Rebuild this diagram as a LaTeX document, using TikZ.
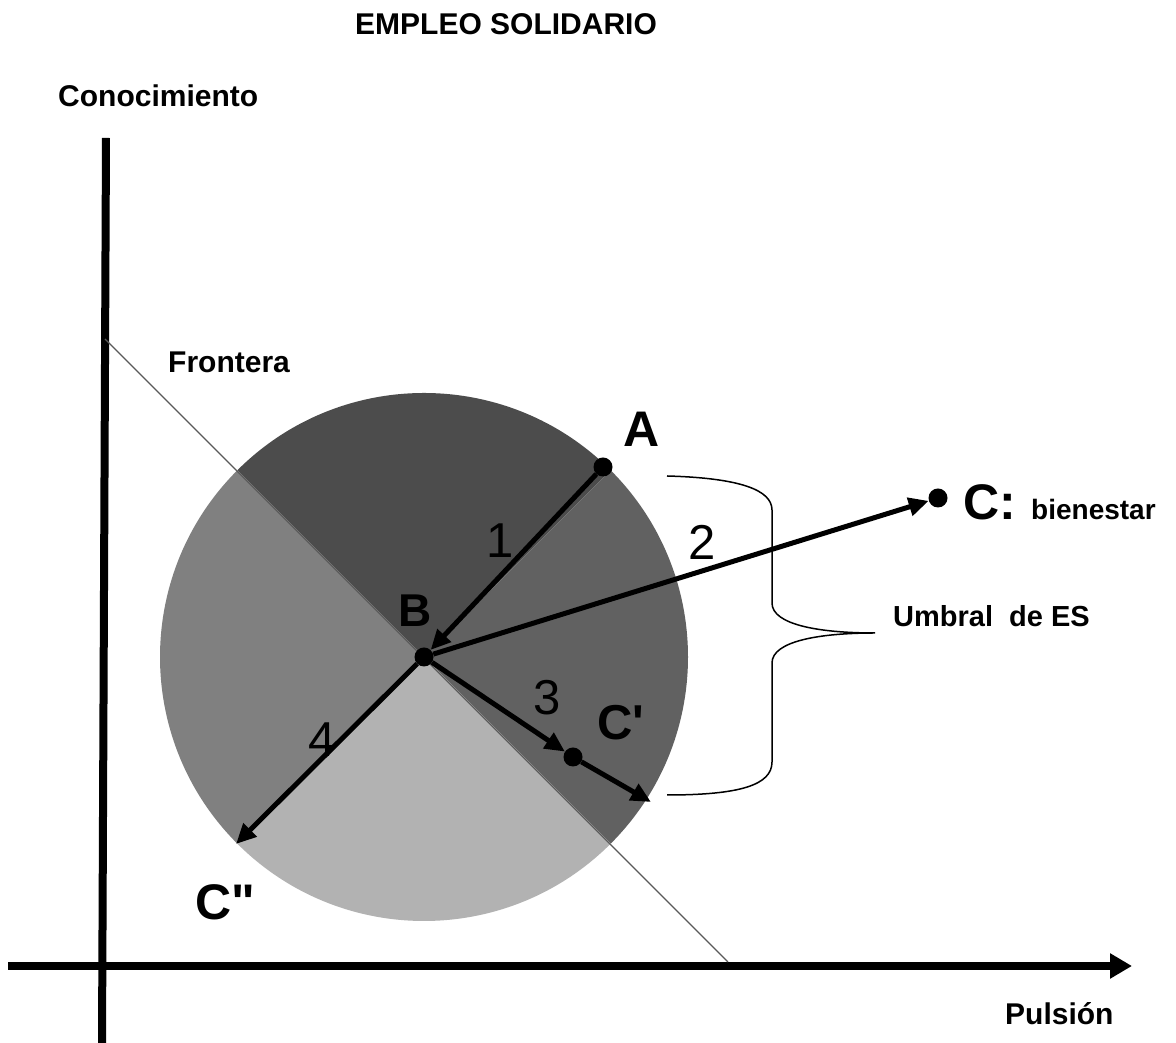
\documentclass[tikz,border=0pt]{standalone}
\usepackage{fontspec}
\setmainfont{Liberation Sans}[Ligatures=TeXOff]
\usetikzlibrary{arrows.meta}
\begin{document}
\begin{tikzpicture}[x=1pt,y=1pt,
  lbl/.style={inner sep=0pt, anchor=base west, font=\bfseries\fontsize{30}{34}\selectfont},
  biglbl/.style={inner sep=0pt, anchor=base west, font=\bfseries\fontsize{50}{56}\selectfont},
  num/.style={inner sep=0pt, anchor=base, font=\fontsize{49}{54}\selectfont},
  dot/.style={circle, fill=black, inner sep=0pt, minimum size=19pt},
  arr/.style={line width=5pt, -{Triangle[length=20pt,width=18pt]}},
  axis/.style={line width=8pt},
  frontier/.style={line width=1.3pt, draw=black!65}]
\useasboundingbox (0,0) rectangle (1176,1043);
\fill[white] (0,0) rectangle (1176,1043);

% circle sectors
\coordinate (O) at (424,386);
\fill[black!70] (O) -- ++(45:264) arc[start angle=45, end angle=135, radius=264] -- cycle;
\fill[black!62] (O) -- ++(-45:264) arc[start angle=-45, end angle=45, radius=264] -- cycle;
\fill[black!50] (O) -- ++(135:264) arc[start angle=135, end angle=225, radius=264] -- cycle;
\fill[black!30] (O) -- ++(225:264) arc[start angle=225, end angle=315, radius=264] -- cycle;

% axes
\coordinate (vtop) at (106,905);
\coordinate (vbot) at (102,0);
\coordinate (hl) at (8,77);
\coordinate (hr) at (1132,77);
\draw[axis] (vtop) -- (vbot);
\draw[axis, -{Triangle[length=22pt,width=24pt]}] (hl) -- (hr);

% frontier line
\coordinate (f1) at (105,704);
\coordinate (f2) at (728,81);
\draw[frontier] (f1) -- (f2);

% texts
\node[lbl] (title) at (355,1008) {EMPLEO SOLIDARIO};
\node[lbl] (yl) at (58,936) {Conocimiento};
\node[lbl] (xl) at (1005,18) {Pulsión};
\node[lbl] (fr) at (168,670) {Frontera};
\node[lbl, font=\bfseries\fontsize{29}{34}\selectfont] (umb) at (893,416) {Umbral\ \ de ES};

% points
\node[dot] (A) at (603,576) {};
\node[dot] (B) at (424,386) {};
\node[dot] (Cp) at (573,286) {};
\node[dot] (C) at (938,545) {};
\coordinate (E3) at (651,241);
\coordinate (E4) at (236,199);

\node[biglbl] (Al) at (623,596) {A};
\node[biglbl, font=\bfseries\fontsize{46}{50}\selectfont] (Bl) at (398,416) {B};
\node[biglbl, font=\bfseries\fontsize{49}{54}\selectfont] (Cpl) at (597,303) {C'};
\node[biglbl] (Cppl) at (195,123) {C"};
\node[biglbl] (Cl) at (963,523) {C:};
\node[inner sep=0pt, anchor=base west, font=\bfseries\fontsize{28}{32}\selectfont] (bien) at (1031,523) {bienestar};

% arrows
\draw[arr] (A) -- (B);
\draw[arr] (B) -- (C);
\draw[arr] (B) -- (Cp);
\draw[arr] (Cp) -- (E3);
\draw[arr] (B) -- (E4);

% numbers
\node[num] (n1) at (500,485) {1};
\node[num] (n2) at (702,483) {2};
\node[num] (n3) at (547,328) {3};
\node[num] (n4) at (322,286) {4};

% brace
\coordinate (bt) at (667,567);
\coordinate (bb) at (667,248);
\coordinate (btip) at (875,410);
\draw[line width=1.5pt] (bt) .. controls (740,565) and (772,553) .. (772,533)
  -- (772,440) .. controls (772,418) and (820,410) .. (btip)
  .. controls (820,410) and (772,402) .. (772,380)
  -- (772,281) .. controls (772,258) and (740,248) .. (bb);
\end{tikzpicture}
\end{document}
